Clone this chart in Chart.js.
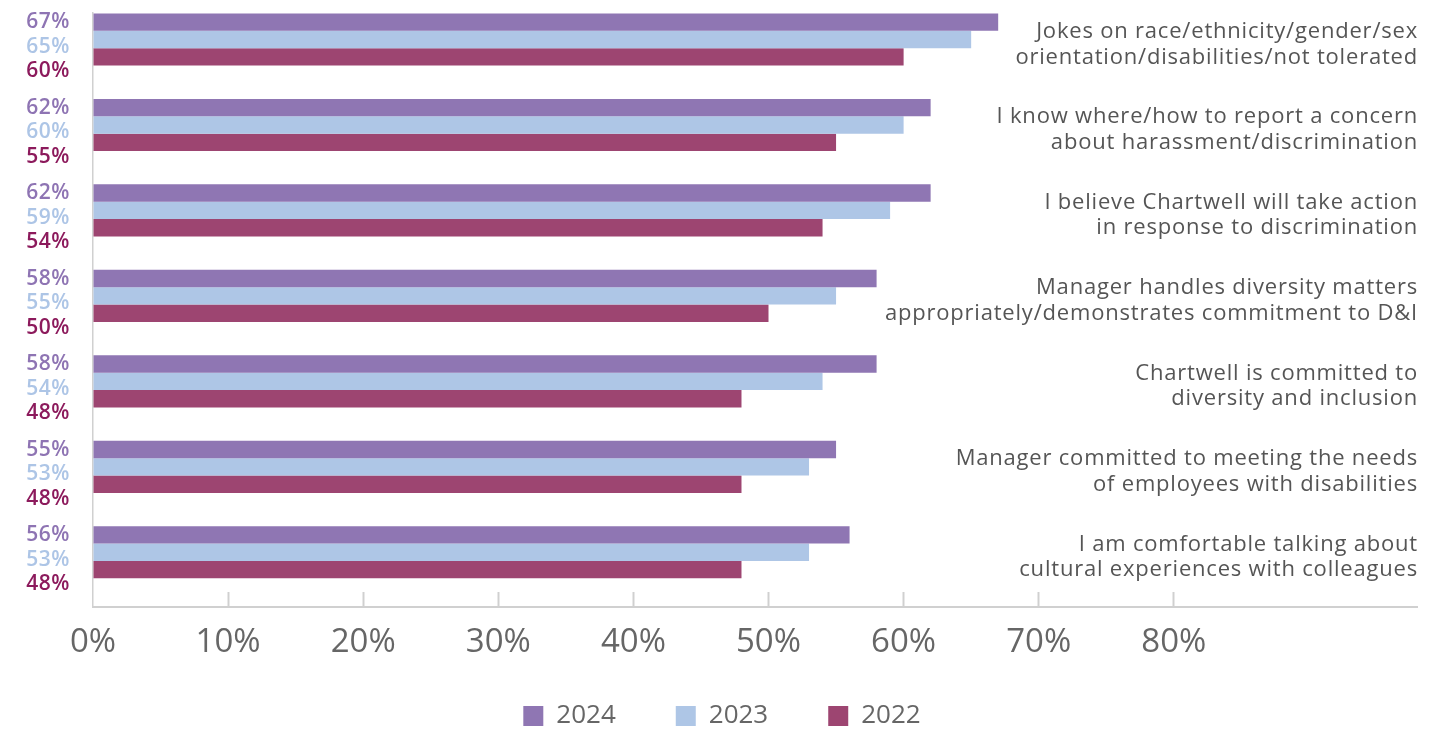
<!DOCTYPE html>
<html>
<head>
<meta charset="utf-8">
<script src="https://cdn.jsdelivr.net/npm/chart.js@4.4.1/dist/chart.umd.min.js"></script>
<style>
  html, body { margin: 0; padding: 0; background: #ffffff; }
  #wrap { width: 1450px; height: 730px; position: relative; }
</style>
</head>
<body>
<div id="wrap"><canvas id="c" width="1450" height="730"></canvas></div>
<script>
const categories = [
  ["Jokes on race/ethnicity/gender/sex", "orientation/disabilities/not tolerated"],
  ["I know where/how to report a concern", "about harassment/discrimination"],
  ["I believe Chartwell will take action", "in response to discrimination"],
  ["Manager handles diversity matters", "appropriately/demonstrates commitment to D&I"],
  ["Chartwell is committed to", "diversity and inclusion"],
  ["Manager committed to meeting the needs", "of employees with disabilities"],
  ["I am comfortable talking about", "cultural experiences with colleagues"]
];
const seriesNames = ["2024", "2023", "2022"];
const values2024 = [67, 62, 62, 58, 58, 55, 56];
const values2023 = [65, 60, 59, 55, 54, 53, 53];
const values2022 = [60, 55, 54, 50, 48, 48, 48];
const tickValues = [0, 10, 20, 30, 40, 50, 60, 70, 80];
const categoryIndex = categories.map((c, i) => i);

const barColors = ["#8f76b3", "#aec6e6", "#9d4571"];
const labelColors = ["#8e74b3", "#adc5e6", "#8c1a5c"];

function toPoints(arr) { return arr.map((v, i) => ({ x: v, y: categoryIndex[i] })); }

const legendShiftPlugin = {
  id: 'legendShift',
  afterLayout(chart) {
    const lg = chart.legend;
    if (!lg) return;
    const target = chart.chartArea.bottom + 36;
    const d = lg.top - target;
    lg.top -= d;
    lg.bottom -= d;
    if (lg.legendHitBoxes) lg.legendHitBoxes.forEach(b => { b.top -= d; });
  }
};

const valueLabelsPlugin = {
  id: 'valueLabels',
  afterDatasetsDraw(chart) {
    const ctx = chart.ctx;
    const area = chart.chartArea;
    const yScale = chart.scales.y;
    ctx.save();
    ctx.font = '600 21px "Open Sans"';
    ctx.letterSpacing = '0.5px';
    ctx.textAlign = 'right';
    ctx.textBaseline = 'middle';
    chart.data.datasets.forEach((ds, di) => {
      ds.data.forEach((pt) => {
        const center = yScale.getPixelForValue(pt.y);
        ctx.fillStyle = labelColors[di];
        ctx.fillText(pt.x + '%', 70, center + 7.5 + (di - 1) * 24.5);
      });
    });
    ctx.font = '400 22px "Open Sans"';
    ctx.letterSpacing = '0.8px';
    ctx.fillStyle = '#555555';
    categories.forEach((lines, i) => {
      const center = yScale.getPixelForValue(categoryIndex[i]) + 5;
      const lh = 25.5;
      const start = center - (lines.length - 1) * lh / 2;
      lines.forEach((t, k) => ctx.fillText(t, area.right + 1, start + k * lh));
    });
    ctx.restore();
  }
};

new Chart(document.getElementById('c'), {
  type: 'bar',
  data: {
    datasets: [
      { label: seriesNames[0], data: toPoints(values2024), backgroundColor: barColors[0] },
      { label: seriesNames[1], data: toPoints(values2023), backgroundColor: barColors[1] },
      { label: seriesNames[2], data: toPoints(values2022), backgroundColor: barColors[2] }
    ]
  },
  options: {
    indexAxis: 'y',
    responsive: false,
    animation: false,
    categoryPercentage: 0.61,
    barPercentage: 1.0,
    layout: { padding: { left: 27, right: 33, top: 13, bottom: -29 } },
    scales: {
      y: {
        type: 'linear',
        reverse: true,
        offset: false,
        min: -0.31,
        max: 6.64,
        afterBuildTicks(scale) { scale.ticks = categoryIndex.map(v => ({ value: v })); },
        afterFit(scale) { scale.width = 66; },
        ticks: { display: false },
        grid: { display: false, drawTicks: false, offset: false },
        border: { display: true, color: '#d0d0d0', width: 1.5 }
      },
      x: {
        type: 'linear',
        min: 0,
        max: 98,
        afterBuildTicks(scale) { scale.ticks = tickValues.map(v => ({ value: v })); },
        afterFit(scale) { scale.height = 56; },
        ticks: {
          callback: v => v + '%',
          font: { family: '"Open Sans"', size: 33, weight: 400 },
          color: '#666666',
          padding: 31,
          maxRotation: 0
        },
        grid: {
          drawOnChartArea: false,
          drawTicks: true,
          tickLength: -15,
          tickWidth: 2,
          color: ctx => (ctx.tick && ctx.tick.value === 0) ? 'rgba(0,0,0,0)' : '#d0d0d0'
        },
        border: { display: true, color: '#d0d0d0', width: 2 }
      }
    },
    plugins: {
      legend: {
        position: 'bottom',
        labels: {
          boxWidth: 20,
          boxHeight: 20,
          padding: 60,
          color: '#666666',
          font: { family: '"Open Sans"', size: 26 }
        }
      },
      tooltip: { enabled: false }
    }
  },
  plugins: [legendShiftPlugin, valueLabelsPlugin]
});
</script>
</body>
</html>
